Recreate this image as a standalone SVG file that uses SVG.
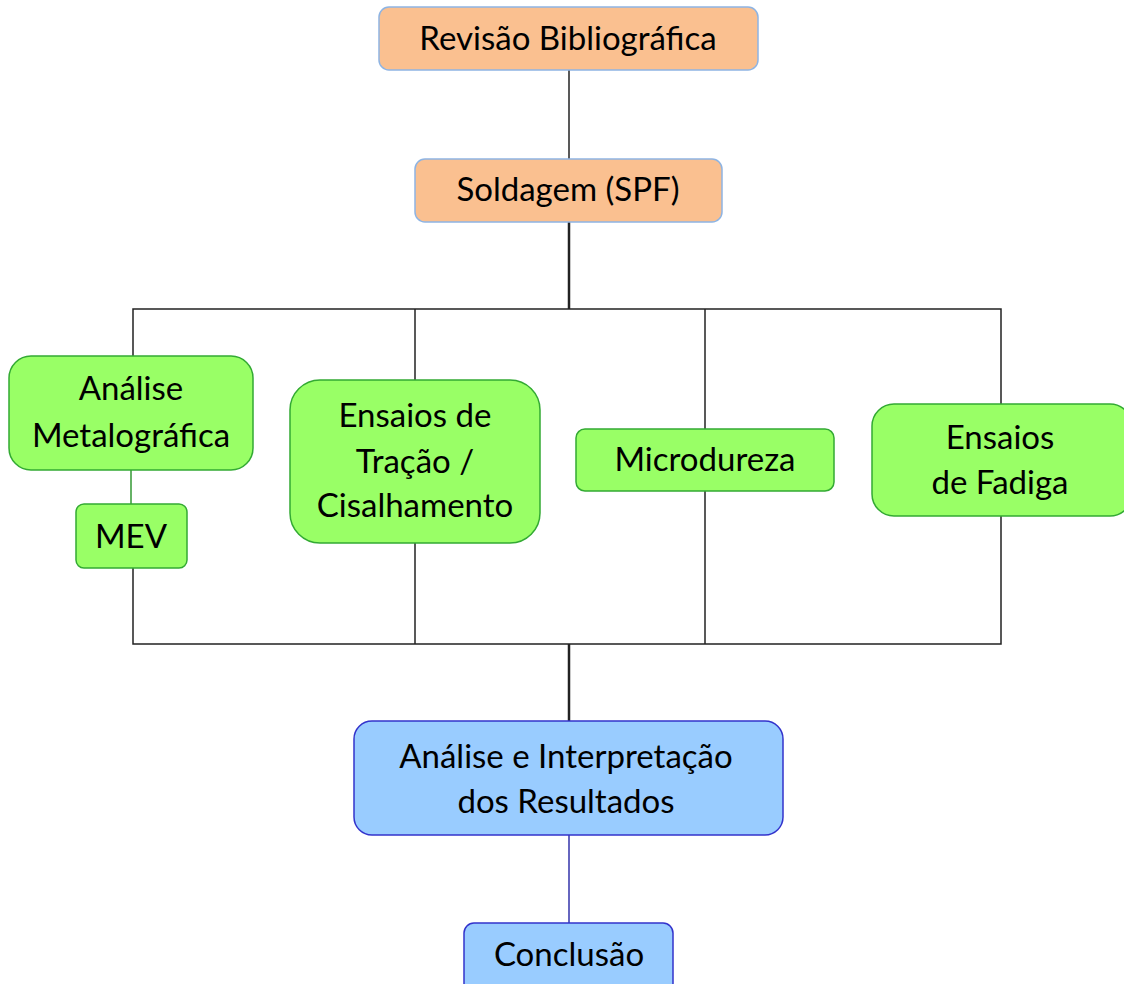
<svg xmlns="http://www.w3.org/2000/svg" width="1124" height="984" viewBox="0 0 1124 984">
<style>
.t{font-family:Lato,"Open Sans","Liberation Sans",sans-serif;font-size:33px;fill:#000;text-anchor:middle}
.orange{fill:#FAC090;stroke:#8EB4E3;stroke-width:1.5}
.green{fill:#99FF66;stroke:#33AA33;stroke-width:1.5}
.blue{fill:#99CCFF;stroke:#3333CC;stroke-width:1.5}
.c{fill:none;stroke:#222;stroke-width:1.5}
.ct{fill:none;stroke:#222;stroke-width:2.5}
</style>
<rect width="1124" height="984" fill="#fff"/>
<g id="connectors">
<line class="c" x1="569" y1="70" x2="569" y2="159"/>
<line class="ct" x1="569" y1="222" x2="569" y2="309"/>
<polyline class="c" points="133,357 133,309 1001,309 1001,405"/>
<line class="c" x1="415" y1="309" x2="415" y2="380"/>
<line class="c" x1="705" y1="309" x2="705" y2="429"/>
<line x1="131" y1="470" x2="131" y2="504" stroke="#339933" stroke-width="1.5"/>
<polyline class="c" points="133,568 133,644 1001,644 1001,516"/>
<line class="c" x1="415" y1="543" x2="415" y2="644"/>
<line class="c" x1="705" y1="491" x2="705" y2="644"/>
<line class="ct" x1="569" y1="644" x2="569" y2="721"/>
<line x1="569" y1="835" x2="569" y2="923" stroke="#3333AA" stroke-width="1.5"/>
</g>
<g id="revisao">
<rect class="orange" x="379" y="7" width="379" height="63" rx="10"/>
<text class="t" x="568" y="50">Revisão Bibliográfica</text>
</g>
<g id="soldagem">
<rect class="orange" x="415" y="159" width="307" height="63" rx="10"/>
<text class="t" x="568" y="201">Soldagem (SPF)</text>
</g>
<g id="analise-metalografica">
<rect class="green" x="9" y="356" width="244" height="114" rx="22"/>
<text class="t" x="131" y="400">Análise</text>
<text class="t" x="131" y="447">Metalográfica</text>
</g>
<g id="mev">
<rect class="green" x="76" y="504" width="111" height="64" rx="8"/>
<text class="t" x="131" y="548">MEV</text>
</g>
<g id="tracao">
<rect class="green" x="290" y="380" width="250" height="163" rx="30"/>
<text class="t" x="415" y="427">Ensaios de</text>
<text class="t" x="415" y="473">Tração /</text>
<text class="t" x="415" y="517">Cisalhamento</text>
</g>
<g id="microdureza">
<rect class="green" x="576" y="429" width="258" height="62" rx="9" stroke="#00CC33"/>
<text class="t" x="705" y="471">Microdureza</text>
</g>
<g id="fadiga">
<rect class="green" x="872" y="404" width="260" height="112" rx="22"/>
<text class="t" x="1000" y="449">Ensaios</text>
<text class="t" x="1000" y="494">de Fadiga</text>
</g>
<g id="interpretacao">
<rect class="blue" x="354" y="721" width="429" height="114" rx="18"/>
<text class="t" x="566" y="768">Análise e Interpretação</text>
<text class="t" x="566" y="813">dos Resultados</text>
</g>
<g id="conclusao">
<rect class="blue" x="464" y="923" width="209" height="70" rx="10"/>
<text class="t" x="569" y="966">Conclusão</text>
</g>
</svg>
